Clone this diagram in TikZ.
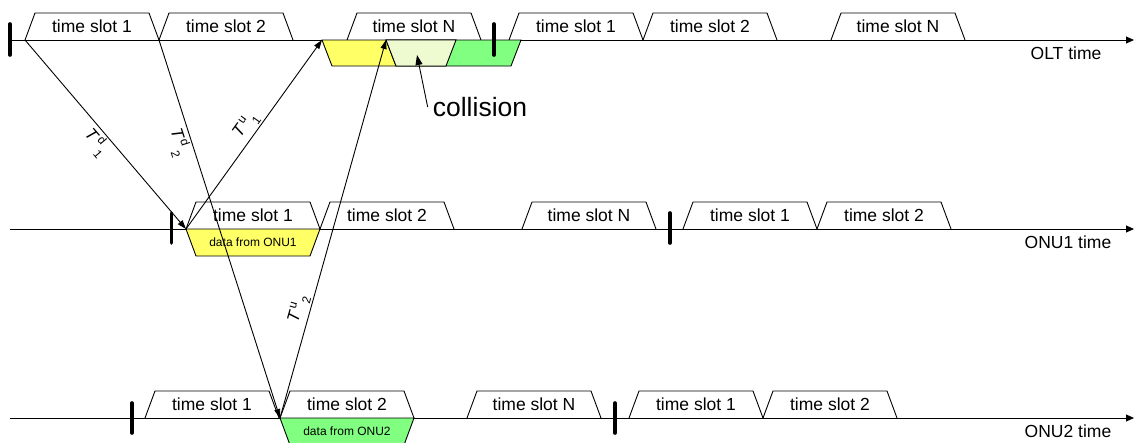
\documentclass[tikz,border=0pt]{standalone}
\usepackage{fontspec}
\setmainfont{Liberation Sans}
\usetikzlibrary{arrows.meta}

\definecolor{dataY}{RGB}{255,255,102}
\definecolor{dataG}{RGB}{128,255,128}
\definecolor{clash}{RGB}{238,250,208}

\tikzset{
  axis/.style={line width=0.9pt, -{Triangle[length=8pt,width=7pt]}},
  slotbox/.style={draw, line width=0.9pt},
  slottext/.style={font=\fontsize{17.5}{20}\selectfont, inner sep=0pt},
  datatext/.style={font=\fontsize{12}{14}\selectfont, inner sep=0pt},
  marker/.style={line width=3.6pt, line cap=round},
  delay/.style={line width=0.9pt, -{Triangle[length=9pt,width=6pt]}},
  tlabel/.style={font=\fontsize{17}{18}\selectfont, inner sep=1.5pt, sloped},
  axislabel/.style={font=\fontsize{17.5}{20}\selectfont, inner sep=0pt},
}

% a time slot sitting on a time line: name, left x, line y, text
\newcommand{\timeslot}[4]{%
  \draw[slotbox] (#2,#3) -- ++(10,-27) -- ++(114,0) -- ++(10,27);
  \node[slottext] (#1) at ({#2+67},{#3-13.5}) {#4};}

% an upstream burst hanging below a time line: name, left x, line y, fill, text
\newcommand{\databurst}[5]{%
  \draw[slotbox, fill=#4] (#2,#3) -- ++(134,0) -- ++(-10,27) -- ++(-114,0) -- cycle;
  \node[datatext] (#1) at ({#2+67},{#3+13.5}) {#5};}

% delay label: T with a raised and a lowered index, set one after the other
\newcommand{\delaylab}[2]{\textit{T}\kern1.5pt\raisebox{6pt}{\fontsize{12}{12}\selectfont #1}\kern1.5pt\raisebox{-6.5pt}{\fontsize{12}{12}\selectfont #2}}

\begin{document}
\begin{tikzpicture}[x=1pt, y=-1pt]
\useasboundingbox (0,0) rectangle (1135,442);
\fill[white] (0,0) rectangle (1135,442);
\clip (0,0) rectangle (1135,442);

% time axes
\coordinate (oltL) at (10,40);    \coordinate (oltR) at (1134,40);
\coordinate (onu1L) at (10,229);  \coordinate (onu1R) at (1134,229);
\coordinate (onu2L) at (10,418);  \coordinate (onu2R) at (1134,418);
\draw[axis] (oltL) -- (oltR);
\draw[axis] (onu1L) -- (onu1R);
\draw[axis] (onu2L) -- (onu2R);
\node[axislabel] (oltlab) at (1066,53) {OLT time};
\node[axislabel] (onu1lab) at (1068,242) {ONU1 time};
\node[axislabel] (onu2lab) at (1068,431) {ONU2 time};

% OLT frame
\timeslot{o1}{25}{40}{time slot 1}
\timeslot{o2}{159}{40}{time slot 2}
\timeslot{oN}{347}{40}{time slot N}
\timeslot{o1b}{509}{40}{time slot 1}
\timeslot{o2b}{643}{40}{time slot 2}
\timeslot{oNb}{831}{40}{time slot N}

% ONU1 frame
\timeslot{a1}{186}{229}{time slot 1}
\timeslot{a2}{320}{229}{time slot 2}
\timeslot{aN}{522}{229}{time slot N}
\timeslot{a1b}{683}{229}{time slot 1}
\timeslot{a2b}{817}{229}{time slot 2}

% ONU2 frame
\timeslot{b1}{145}{418}{time slot 1}
\timeslot{b2}{280}{418}{time slot 2}
\timeslot{bN}{467}{418}{time slot N}
\timeslot{b1b}{629}{418}{time slot 1}
\timeslot{b2b}{763}{418}{time slot 2}

% upstream bursts
\databurst{d1}{186}{229}{dataY}{data from ONU1}
\databurst{d2}{280}{418}{dataG}{data from ONU2}

% bursts arriving at the OLT and their overlap
\draw[slotbox, fill=dataY] (322,40) -- (456,40) -- (446,66) -- (332,66) -- cycle;
\draw[slotbox, fill=dataG] (386,40) -- (521,40) -- (511,66) -- (396,66) -- cycle;
\draw[slotbox, fill=clash] (386,40) -- (456,40) -- (446,66) -- (396,66) -- cycle;

% frame start markers
\draw[marker] (10,24) -- (10,55);
\draw[marker] (494,24) -- (494,55);
\draw[marker] (171.5,213) -- (171.5,243);
\draw[marker] (670,213) -- (670,243);
\draw[marker] (132,403) -- (132,433);
\draw[marker] (615,403) -- (615,433);

% propagation delays
\coordinate (tx1) at (25,40);
\coordinate (tx2) at (159,40);
\coordinate (rx1) at (186,229);
\coordinate (rx2) at (280,418);
\coordinate (up1) at (322,40);
\coordinate (up2) at (386,40);
\draw[delay] (tx1) -- node[tlabel, below, pos=0.5] (td1) {\delaylab{d}{1}} (rx1);
\draw[delay] (tx2) -- node[tlabel, below, pos=0.26] (td2) {\delaylab{d}{2}} (rx2);
\draw[delay] (rx1) -- node[tlabel, above, pos=0.51] (tu1) {\delaylab{u}{1}} (up1);
\draw[delay] (rx2) -- node[tlabel, above, pos=0.28] (tu2) {\delaylab{u}{2}} (up2);

% collision callout
\node[font=\fontsize{26.5}{30}\selectfont, inner sep=0pt] (coll) at (480,107) {collision};
\coordinate (clashpt) at (417,55);
\draw[delay, -{Triangle[length=10pt,width=7pt]}] ([xshift=-5pt]coll.west) -- (clashpt);
\end{tikzpicture}
\end{document}
